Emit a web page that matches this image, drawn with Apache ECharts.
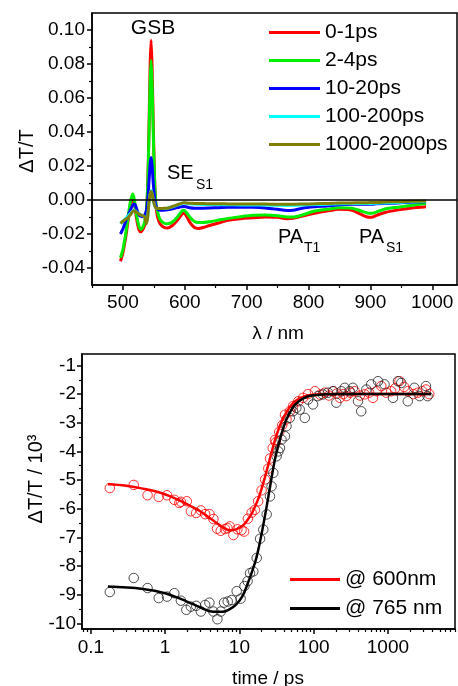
<!DOCTYPE html>
<html><head><meta charset="utf-8">
<script src="https://cdn.jsdelivr.net/npm/echarts@6/dist/echarts.min.js"></script>
<style>html,body{margin:0;padding:0;background:#fff}#c{width:458px;height:686px}</style>
</head><body><div id="c"></div>
<script>
// ---------- top panel: transient spectra ----------
const wavelength = [496,500,504,508,512,516,519,522,526,529,532,535,538,540,542,544,545.5,547,549,551,553,556,560,566,572,580,588,594,598,602,608,615,622,630,640,655,670,690,710,730,750,765,775,790,810,830,850,870,885,895,902,910,925,945,965,990];
const spec_0_1ps = [-0.036,-0.031,-0.023,-0.013,-0.003,0.0015,-0.003,-0.011,-0.0175,-0.0187,-0.0175,-0.015,-0.008,0.008,0.040,0.080,0.094,0.080,0.045,0.015,-0.002,-0.010,-0.014,-0.016,-0.0165,-0.015,-0.012,-0.009,-0.0078,-0.009,-0.013,-0.016,-0.0167,-0.0162,-0.015,-0.0135,-0.012,-0.011,-0.0105,-0.010,-0.0102,-0.011,-0.0108,-0.0095,-0.0078,-0.0065,-0.0055,-0.006,-0.0085,-0.0100,-0.0102,-0.009,-0.0072,-0.0058,-0.0048,-0.004];
const spec_2_4ps = [-0.034,-0.029,-0.021,-0.011,-0.001,0.0035,-0.001,-0.009,-0.0155,-0.0173,-0.016,-0.013,-0.006,0.008,0.036,0.070,0.082,0.070,0.040,0.013,-0.001,-0.007,-0.0115,-0.0135,-0.014,-0.013,-0.010,-0.007,-0.006,-0.007,-0.010,-0.0125,-0.0133,-0.0132,-0.0128,-0.0118,-0.0108,-0.0098,-0.009,-0.0088,-0.0092,-0.0100,-0.0100,-0.0088,-0.0065,-0.0055,-0.0045,-0.0048,-0.0065,-0.0076,-0.0078,-0.007,-0.0052,-0.0042,-0.0032,-0.002];
const spec_10_20ps = [-0.020,-0.017,-0.013,-0.0095,-0.006,-0.003,-0.0025,-0.005,-0.0088,-0.0095,-0.0098,-0.009,-0.006,0.000,0.010,0.021,0.025,0.021,0.010,0.002,-0.003,-0.0055,-0.006,-0.006,-0.0058,-0.0052,-0.0045,-0.004,-0.0038,-0.004,-0.0045,-0.0048,-0.0048,-0.0048,-0.0047,-0.0045,-0.0043,-0.0042,-0.0043,-0.0047,-0.0055,-0.0062,-0.006,-0.0048,-0.004,-0.0035,-0.0028,-0.0025,-0.0025,-0.0025,-0.0025,-0.0022,-0.002,-0.0017,-0.0013,-0.001];
const spec_100_200ps = [-0.014,-0.0125,-0.011,-0.0095,-0.008,-0.0065,-0.006,-0.007,-0.008,-0.0088,-0.0092,-0.0098,-0.013,-0.010,-0.002,0.0035,0.0055,0.004,0.0005,-0.003,-0.0045,-0.005,-0.005,-0.005,-0.0048,-0.004,-0.003,-0.0022,-0.0018,-0.0019,-0.0022,-0.0024,-0.0025,-0.0026,-0.0026,-0.0027,-0.0028,-0.0029,-0.003,-0.003,-0.0031,-0.0032,-0.0031,-0.003,-0.0027,-0.0025,-0.0022,-0.002,-0.002,-0.002,-0.002,-0.0019,-0.0017,-0.0014,-0.0011,-0.0008];
const spec_1000_2000ps = [-0.0138,-0.0125,-0.0115,-0.0105,-0.0088,-0.0066,-0.0063,-0.0072,-0.0083,-0.0088,-0.0092,-0.0100,-0.0140,-0.0100,-0.0020,0.0035,0.0050,0.0040,0.0000,-0.0030,-0.0045,-0.0050,-0.0050,-0.0049,-0.0048,-0.0038,-0.0028,-0.0020,-0.0016,-0.0017,-0.0019,-0.0020,-0.0021,-0.0021,-0.0022,-0.0022,-0.0023,-0.0024,-0.0024,-0.0024,-0.0025,-0.0025,-0.0025,-0.0024,-0.0022,-0.002,-0.0018,-0.0017,-0.0016,-0.0016,-0.0015,-0.0014,-0.0012,-0.001,-0.0008,-0.0006];
const specNames = ['0-1ps','2-4ps','10-20ps','100-200ps','1000-2000ps'];
const lambdaMajorTicks = [500,600,700,800,900,1000];
const lambdaMinorTicks = [450,550,650,750,850,950];
const dttMajorTicks = [-0.04,-0.02,0,0.02,0.04,0.06,0.08,0.10];
const dttMinorTicks = [-0.03,-0.01,0.01,0.03,0.05,0.07,0.09];

// ---------- bottom panel: kinetics ----------
const t600 = [0.18,0.378,0.58,0.82,1.06,1.33,1.55,1.63,1.96,2.22,2.62,3.03,3.46,3.95,4.47,5.0,5.6,6.4,6.9,7.4,8.3,9.4,10.7,11.6,13.0,14.6,16.2,17.9,19.9,22.2,24.5,25.8,28.1,30.1,31.0,34.4,37.8,41.1,43.1,47.7,52.8,62,72,84,104,122,141,160,183,205,225,250,275,310,357,420,486,560,628,700,813,950,1107,1250,1430,1650,1850,2200,2520,2900,3250,3600];
const v600 = [-5.28,-5.17,-5.53,-5.59,-5.53,-5.69,-5.80,-5.76,-5.74,-6.09,-6.15,-6.06,-6.19,-6.19,-6.36,-6.70,-6.77,-6.71,-6.68,-6.62,-6.92,-6.72,-6.75,-6.80,-6.35,-6.14,-6.04,-5.74,-5.36,-4.98,-4.60,-4.25,-3.88,-3.60,-3.68,-3.32,-3.08,-2.72,-2.88,-2.60,-2.42,-2.25,-2.13,-2.00,-1.90,-2.02,-1.95,-2.05,-1.90,-1.98,-2.13,-2.00,-2.07,-1.95,-1.90,-2.05,-2.01,-1.95,-2.13,-1.90,-1.72,-1.95,-1.90,-1.80,-1.55,-1.75,-1.90,-2.00,-1.95,-1.90,-1.84,-2.00];
const t765 = [0.18,0.378,0.58,0.82,1.06,1.33,1.63,1.93,2.22,2.62,3.03,3.46,3.95,4.47,5.06,5.61,6.22,6.97,7.87,9.2,10.4,11.7,12.9,13.9,15.4,17.1,19.0,21.0,23.3,25.8,27.1,28.6,31.7,33.5,35.2,36.9,41.1,43.1,47.7,52.8,58.5,65,76,84,98,114,133,156,183,202,236,262,305,337,395,437,512,595,735,900,1170,1366,1510,1850,2270,2670,3250,3420];
const v765 = [-8.91,-8.42,-8.77,-9.12,-9.07,-8.95,-9.21,-9.53,-9.42,-9.39,-9.59,-9.36,-9.28,-9.59,-9.86,-9.59,-9.28,-9.24,-9.19,-8.88,-9.14,-8.70,-8.53,-8.25,-8.19,-7.72,-7.05,-6.73,-6.20,-5.57,-5.22,-4.75,-4.17,-4.00,-3.88,-3.59,-3.47,-3.12,-2.83,-2.60,-2.48,-2.54,-2.83,-2.19,-2.36,-2.07,-2.01,-1.95,-1.90,-2.30,-1.90,-1.78,-1.90,-1.78,-2.25,-2.60,-1.84,-1.66,-1.55,-1.66,-2.13,-1.55,-1.61,-2.25,-1.78,-2.07,-1.72,-2.07];
const fitT600 = [0.17,0.3,0.5,0.8,1.2,2,3,4.5,6,7.5,9,11,13,15,18,21,24,27,30,34,40,50,60,75,100,200,3800];
const fitV600 = [-5.15,-5.2,-5.3,-5.42,-5.58,-5.85,-6.1,-6.42,-6.65,-6.75,-6.72,-6.6,-6.38,-6.12,-5.65,-5.1,-4.55,-4.05,-3.62,-3.2,-2.78,-2.38,-2.2,-2.08,-2.02,-2.0,-2.0];
const fitT765 = [0.17,0.5,1,2,3,4.5,6,7.5,9,11,13,15,17,20,23,26,30,35,40,46,55,65,80,100,200,3800];
const fitV765 = [-8.72,-8.8,-8.95,-9.25,-9.45,-9.6,-9.6,-9.5,-9.35,-9.05,-8.6,-8.15,-7.7,-6.85,-6.0,-5.2,-4.3,-3.6,-3.1,-2.72,-2.4,-2.22,-2.1,-2.04,-2.0,-2.0];
const timeMajorTicks = [0.1,1,10,100,1000];
const timeMinorTicks = [0.08,0.09,0.2,0.3,0.4,0.5,0.6,0.7,0.8,0.9,2,3,4,5,6,7,8,9,20,30,40,50,60,70,80,90,200,300,400,500,600,700,800,900,2000,3000,4000,5000,6000,7000,8000];
const kinMajorTicks = [-10,-9,-8,-7,-6,-5,-4,-3,-2,-1];
const kinMinorTicks = [-9.5,-8.5,-7.5,-6.5,-5.5,-4.5,-3.5,-2.5,-1.5];
const kinNames = ['@ 600nm', '@ 765 nm'];

const FONT = 'Liberation Sans, Arial, sans-serif';
const zip = (xs, ys) => xs.map((x, i) => [x, ys[i]]);
const specColors = ['#ff0000','#00ee00','#0000ff','#00ffff','#808000'];
const specData = [spec_0_1ps, spec_2_4ps, spec_10_20ps, spec_100_200ps, spec_1000_2000ps];

function majorAxis(grid, type, min, max, ticks, fmt, fs, margin, extra) {
  return Object.assign({
    gridIndex: grid, type: type, min: min, max: max,
    axisLine: {show: true, onZero: false, lineStyle: {color: '#000', width: 1.5}},
    axisTick: {show: true, inside: false, length: 5, customValues: ticks, lineStyle: {color: '#000', width: 1.5}},
    axisLabel: {show: true, customValues: ticks, formatter: fmt, color: '#000', fontSize: fs, fontFamily: FONT, margin: margin},
    splitLine: {show: false}, minorTick: {show: false}, minorSplitLine: {show: false}
  }, extra || {});
}
function minorAxis(grid, type, min, max, ticks, extra) {
  return Object.assign({
    gridIndex: grid, type: type, min: min, max: max,
    axisLine: {show: false, onZero: false},
    axisTick: {show: true, inside: false, length: 3, customValues: ticks, lineStyle: {color: '#000', width: 1.2}},
    axisLabel: {show: false},
    splitLine: {show: false}
  }, extra || {});
}

const series = [];
specData.forEach((d, i) => {
  const s = {
    name: specNames[i], type: 'line', xAxisIndex: 0, yAxisIndex: 0,
    data: zip(wavelength, d), symbol: 'none', showSymbol: false, smooth: 0.3,
    lineStyle: {color: specColors[i], width: 3}, itemStyle: {color: specColors[i]},
    emphasis: {disabled: true}, silent: true
  };
  if (i === 0) {
    s.markLine = {silent: true, symbol: 'none', label: {show: false},
      lineStyle: {color: '#000', width: 1.5, type: 'solid'}, data: [{yAxis: 0}]};
  }
  series.push(s);
});
series.push({name: 'pts600', type: 'scatter', xAxisIndex: 2, yAxisIndex: 2, data: zip(t600, v600),
  symbol: 'circle', symbolSize: 9.5, itemStyle: {color: 'rgba(255,255,255,0)', borderColor: '#ff0000', borderWidth: 1}, silent: true});
series.push({name: kinNames[0], type: 'line', xAxisIndex: 2, yAxisIndex: 2, data: zip(fitT600, fitV600),
  symbol: 'none', showSymbol: false, smooth: 0.4, lineStyle: {color: '#ff0000', width: 2.5}, itemStyle: {color: '#ff0000'}, silent: true});
series.push({name: 'pts765', type: 'scatter', xAxisIndex: 2, yAxisIndex: 2, data: zip(t765, v765),
  symbol: 'circle', symbolSize: 9.5, itemStyle: {color: 'rgba(255,255,255,0)', borderColor: '#222', borderWidth: 1}, silent: true});
series.push({name: kinNames[1], type: 'line', xAxisIndex: 2, yAxisIndex: 2, data: zip(fitT765, fitV765),
  symbol: 'none', showSymbol: false, smooth: 0.4, lineStyle: {color: '#000', width: 2.5}, itemStyle: {color: '#000'}, silent: true});

function txt(text, x, y, size, align, rot) {
  return {type: 'text', x: x, y: y, rotation: rot || 0, silent: true,
    style: {text: text, x: 0, y: 0, fill: '#000', font: size + 'px ' + FONT, textAlign: align || 'center', textVerticalAlign: 'middle'}};
}

const option = {
  animation: false,
  backgroundColor: '#fff',
  grid: [
    {left: 92, top: 13, width: 365, height: 272, show: true, borderColor: '#000', borderWidth: 1.5, backgroundColor: 'transparent'},
    {left: 82, top: 354, width: 373, height: 275, show: true, borderColor: '#000', borderWidth: 1.5, backgroundColor: 'transparent'}
  ],
  xAxis: [
    majorAxis(0, 'value', 450, 1040, lambdaMajorTicks, v => String(v), 19, 8, {position: 'bottom'}),
    minorAxis(0, 'value', 450, 1040, lambdaMinorTicks, {position: 'bottom'}),
    majorAxis(1, 'log', 0.076, 8000, timeMajorTicks, v => (v < 1 ? String(v) : String(Math.round(v))), 19, 9, {position: 'bottom', logBase: 10}),
    minorAxis(1, 'log', 0.076, 8000, timeMinorTicks, {position: 'bottom', logBase: 10})
  ],
  yAxis: [
    majorAxis(0, 'value', -0.05, 0.11, dttMajorTicks, v => Number(v).toFixed(2), 19, 7, {position: 'left'}),
    minorAxis(0, 'value', -0.05, 0.11, dttMinorTicks, {position: 'left'}),
    majorAxis(1, 'value', -10.2, -0.6, kinMajorTicks, v => String(v), 19, 6, {position: 'left'}),
    minorAxis(1, 'value', -10.2, -0.6, kinMinorTicks, {position: 'left'})
  ],
  legend: [
    {data: specNames, orient: 'vertical', left: 269, top: 22, padding: 0, icon: 'rect', itemWidth: 51, itemHeight: 3, itemGap: 7,
      selectedMode: false, textStyle: {fontSize: 21, lineHeight: 20, fontFamily: FONT, color: '#000'}},
    {data: kinNames, orient: 'vertical', left: 290, top: 569, padding: 0, icon: 'rect', itemWidth: 50, itemHeight: 3, itemGap: 8,
      selectedMode: false, textStyle: {fontSize: 21, lineHeight: 20, fontFamily: FONT, color: '#000'}}
  ],
  graphic: [
    txt('\u0394T/T', 27, 151, 20, 'center', Math.PI / 2),
    txt('\u03bb / nm', 278, 334, 19),
    txt('GSB', 153, 28, 21),
    txt('SE', 167, 173, 20, 'left'),
    txt('S1', 196, 185, 14, 'left'),
    txt('PA', 278, 237, 20, 'left'),
    txt('T1', 304, 248, 14, 'left'),
    txt('PA', 359, 237, 20, 'left'),
    txt('S1', 386, 248, 14, 'left'),
    txt('\u0394T/T / 10\u00b3', 36, 479, 20, 'center', Math.PI / 2),
    txt('time / ps', 268, 679, 19)
  ],
  series: series
};
const chart = echarts.init(document.getElementById('c'));
chart.setOption(option);
</script></body></html>
